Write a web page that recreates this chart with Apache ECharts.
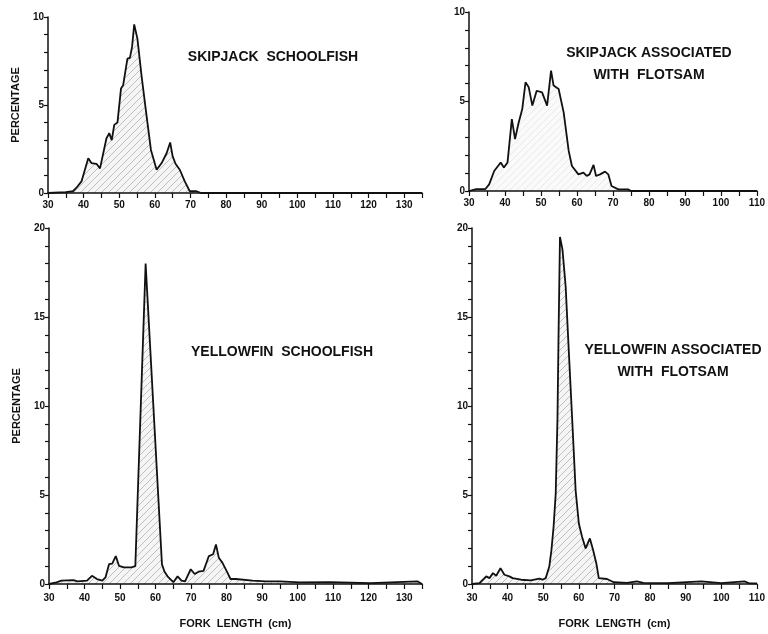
<!DOCTYPE html>
<html>
<head>
<meta charset="utf-8">
<script src="https://cdn.jsdelivr.net/npm/echarts@6/dist/echarts.min.js"></script>
<style>
  html, body { margin: 0; padding: 0; background: #fff; }
  #chart { width: 768px; height: 634px; }
</style>
</head>
<body>
<div id="chart"></div>
<script>
// fork length (cm) and percentage
var sjSchoolLen = [30, 35, 37, 38, 39.4, 41.3, 42.2, 43.6, 44.6, 46.4, 47.2, 47.9, 48.6, 49.5, 50.5, 51.1, 52.3, 53, 53.6, 54.2, 55.1, 56.3, 57.7, 58.9, 60.5, 61.9, 63.3, 64.3, 65, 65.8, 67, 68.4, 69.8, 71.7, 73, 135];
var sjSchoolPct = [0, 0.05, 0.1, 0.3, 0.66, 1.98, 1.7, 1.66, 1.4, 3.1, 3.4, 3.0, 3.87, 4.0, 5.94, 6.13, 7.64, 7.68, 8.3, 9.58, 8.77, 6.6, 4.34, 2.45, 1.32, 1.7, 2.26, 2.87, 2.08, 1.66, 1.32, 0.66, 0.1, 0.1, 0, 0];

var sjFlotLen = [30, 32, 34.5, 35.6, 37, 38.8, 39.7, 40.7, 41.9, 42.8, 43.7, 44.8, 45.7, 46.6, 47.6, 48.8, 50.3, 51.7, 52.8, 53.5, 54.9, 56.3, 57.7, 58.6, 60.4, 61.8, 62.7, 63.5, 64.6, 65.3, 66.4, 67.8, 68.7, 69.6, 71.5, 74.2, 75, 110];
var sjFlotPct = [0, 0.1, 0.1, 0.37, 1.12, 1.59, 1.31, 1.59, 4.02, 2.9, 3.74, 4.58, 6.07, 5.79, 4.77, 5.6, 5.51, 4.77, 6.73, 5.89, 5.7, 4.39, 2.24, 1.4, 0.93, 1.03, 0.84, 0.93, 1.46, 0.84, 0.93, 1.08, 0.93, 0.28, 0.09, 0.09, 0, 0];

var yfSchoolLen = [30, 32.1, 33.5, 36.9, 38, 40.7, 42.1, 43.5, 45, 45.9, 46.9, 47.8, 48.8, 49.7, 51.1, 52.1, 53.2, 54.3, 57.2, 61.8, 62.5, 63.5, 65, 66.2, 67.3, 68.3, 69.9, 71, 72.1, 73.5, 75, 76.2, 77, 77.8, 78.8, 80.2, 81.1, 82.6, 87.3, 91, 95, 100.6, 109, 120.5, 133.7, 135];
var yfSchoolPct = [0, 0.09, 0.19, 0.22, 0.15, 0.19, 0.46, 0.28, 0.19, 0.37, 1.11, 1.15, 1.57, 1.02, 0.93, 0.93, 0.93, 1.0, 18.0, 1.1, 0.7, 0.4, 0.1, 0.43, 0.19, 0.15, 0.83, 0.56, 0.69, 0.74, 1.57, 1.67, 2.22, 1.48, 1.2, 0.65, 0.28, 0.28, 0.19, 0.15, 0.15, 0.09, 0.1, 0.05, 0.15, 0];

var yfFlotLen = [30, 32.1, 34, 34.9, 35.9, 36.8, 38, 39.1, 40.5, 41.4, 43.8, 46.5, 48.9, 49.8, 50.7, 51.7, 52.3, 52.9, 53.5, 54, 54.3, 54.7, 55.4, 56.3, 57.2, 58.2, 59.1, 60, 60.9, 61.9, 63.1, 64, 64.9, 65.6, 67.9, 69.8, 73.5, 76.3, 78.1, 85, 94.4, 100, 106.5, 108, 110];
var yfFlotPct = [0, 0.05, 0.43, 0.33, 0.61, 0.46, 0.89, 0.52, 0.43, 0.33, 0.24, 0.2, 0.3, 0.24, 0.33, 0.98, 1.9, 3.2, 5.06, 9.3, 14, 19.5, 18.8, 16.7, 13.0, 8.96, 5.25, 3.4, 2.65, 2.0, 2.56, 1.91, 1.17, 0.33, 0.28, 0.1, 0.06, 0.15, 0.06, 0.05, 0.15, 0.05, 0.15, 0.03, 0.03];

var titles = ["SKIPJACK  SCHOOLFISH", "SKIPJACK ASSOCIATED\nWITH  FLOTSAM", "YELLOWFIN  SCHOOLFISH", "YELLOWFIN ASSOCIATED\nWITH  FLOTSAM"];

var ink = "#111";
var font = "Liberation Sans";

function pairs(xs, ys) {
  return xs.map(function (x, i) { return [x, ys[i]]; });
}

// diagonal hatch for the area under the curve
function hatch(alpha, bg) {
  var c = document.createElement("canvas");
  c.width = 7; c.height = 7;
  var g = c.getContext("2d");
  g.fillStyle = bg;
  g.fillRect(0, 0, 7, 7);
  g.strokeStyle = "rgba(0,0,0," + alpha + ")";
  g.lineWidth = 0.7;
  g.beginPath();
  g.moveTo(0, 7); g.lineTo(7, 0);
  g.moveTo(-1, 1); g.lineTo(1, -1);
  g.moveTo(6, 8); g.lineTo(8, 6);
  g.stroke();
  return c;
}

function xAxis(idx, max, showName, margin) {
  return {
    type: "value", gridIndex: idx, min: 30, max: max, interval: 5,
    name: showName ? "FORK  LENGTH  (cm)" : "",
    nameLocation: "middle", nameGap: 34,
    nameTextStyle: { color: ink, fontFamily: font, fontWeight: "bold", fontSize: 11 },
    axisLine: { lineStyle: { color: ink, width: 1.5 } },
    axisTick: { inside: false, length: 5, lineStyle: { color: ink, width: 1.2 } },
    splitLine: { show: false },
    axisLabel: {
      color: ink, fontFamily: font, fontSize: 10, fontWeight: "bold", margin: margin,
      formatter: function (v) { return v % 10 === 0 ? v : ""; }
    }
  };
}

function yAxis(idx, max, showName) {
  return {
    type: "value", gridIndex: idx, min: 0, max: max, interval: 1,
    name: showName ? "PERCENTAGE" : "",
    nameLocation: "middle", nameGap: 27,
    nameTextStyle: { color: ink, fontFamily: font, fontWeight: "bold", fontSize: 11 },
    axisLine: { show: true, lineStyle: { color: ink, width: 1.5 } },
    axisTick: { show: true, length: 4, lineStyle: { color: ink, width: 1.2 } },
    splitLine: { show: false },
    axisLabel: {
      color: ink, fontFamily: font, fontSize: 10, fontWeight: "bold", margin: 4,
      formatter: function (v) { return v % 5 === 0 ? v : ""; }
    }
  };
}

function curve(idx, data, fill) {
  return {
    type: "line", xAxisIndex: idx, yAxisIndex: idx,
    data: data, showSymbol: false, smooth: false,
    lineStyle: { color: ink, width: 1.8 },
    areaStyle: { color: { image: fill, repeat: "repeat" }, opacity: 1 },
    z: 1
  };
}

function label(x, y, text) {
  return {
    type: "text", x: x, y: y, z: 10,
    style: {
      text: text, align: "center", verticalAlign: "middle", lineHeight: 22,
      fill: ink, font: "bold 14px '" + font + "'"
    }
  };
}

var hatchDense = hatch(0.32, "rgba(0,0,0,0.04)");
var hatchLight = hatch(0.1, "rgba(0,0,0,0.02)");

var options = {
  backgroundColor: "#fff",
  animation: false,
  grid: [
    { left: 48, top: 17, width: 374, height: 176 },
    { left: 469, top: 12, width: 290, height: 179 },
    { left: 49, top: 228, width: 373, height: 360 },
    { left: 472, top: 228, width: 287, height: 360 }
  ],
  xAxis: [xAxis(0, 135, false, 7), xAxis(1, 110, false, 7), xAxis(2, 135, true, 9), xAxis(3, 110, true, 9)],
  yAxis: [yAxis(0, 10, true), yAxis(1, 10, false), yAxis(2, 20, true), yAxis(3, 20, false)],
  series: [
    curve(0, pairs(sjSchoolLen, sjSchoolPct), hatchDense),
    curve(1, pairs(sjFlotLen, sjFlotPct), hatchLight),
    curve(2, pairs(yfSchoolLen, yfSchoolPct), hatchDense),
    curve(3, pairs(yfFlotLen, yfFlotPct), hatchDense)
  ],
  graphic: [
    label(273, 57, titles[0]),
    label(649, 64, titles[1]),
    label(282, 352, titles[2]),
    label(673, 361, titles[3])
  ]
};

var chart = echarts.init(document.getElementById("chart"));
chart.setOption(options);
</script>
</body>
</html>
